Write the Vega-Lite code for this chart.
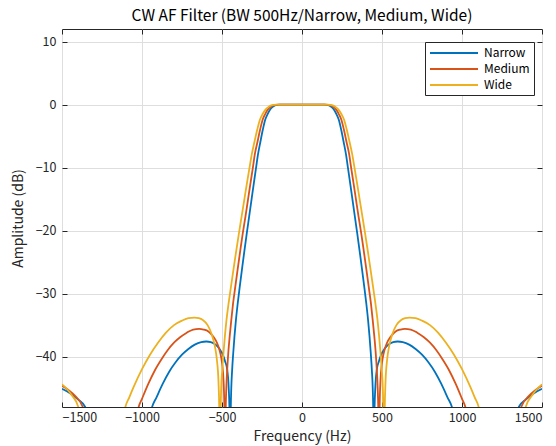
{
  "$schema": "https://vega.github.io/schema/vega-lite/v6.json",
  "width": 480,
  "height": 378,
  "autosize": {"type": "none"},
  "padding": {"left": 62, "top": 29, "right": 14, "bottom": 39},
  "background": "white",
  "title": {"text": "CW AF Filter (BW 500Hz/Narrow, Medium, Wide)", "font": "Noto Sans CJK JP", "fontSize": 15.5, "fontWeight": "normal", "color": "#000000", "offset": 4},
  "config": {
    "view": {"stroke": "#262626", "strokeWidth": 1},
    "axis": {
      "labelFont": "Noto Sans CJK JP", "labelFontSize": 12.5, "labelColor": "#262626",
      "titleFont": "Noto Sans CJK JP", "titleFontSize": 14, "titleFontWeight": "normal", "titleColor": "#262626",
      "domain": false, "tickColor": "#262626", "tickSize": -5, "gridColor": "#dedede", "gridWidth": 1
    },
    "legend": {"labelFont": "Noto Sans CJK JP", "labelFontSize": 12, "labelColor": "#000000"}
  },
  "data": {"values": [
    {"s":"Narrow","f":-1500,"db":-45.1},{"s":"Narrow","f":-1450,"db":-45.8},{"s":"Narrow","f":-1400,"db":-46.8},{"s":"Narrow","f":-1355,"db":-48},{"s":"Narrow","f":-1340,"db":-50},{"s":"Narrow","f":-1150,"db":-80},{"s":"Narrow","f":-970,"db":-52},{"s":"Narrow","f":-937,"db":-48},{"s":"Narrow","f":-910,"db":-46.5},{"s":"Narrow","f":-870,"db":-44.3},{"s":"Narrow","f":-830,"db":-42.4},{"s":"Narrow","f":-790,"db":-40.9},{"s":"Narrow","f":-750,"db":-39.7},{"s":"Narrow","f":-710,"db":-38.8},{"s":"Narrow","f":-670,"db":-38.1},{"s":"Narrow","f":-630,"db":-37.7},{"s":"Narrow","f":-598,"db":-37.6},{"s":"Narrow","f":-570,"db":-37.7},{"s":"Narrow","f":-540,"db":-38.1},{"s":"Narrow","f":-515,"db":-38.8},{"s":"Narrow","f":-495,"db":-39.7},{"s":"Narrow","f":-480,"db":-40.8},{"s":"Narrow","f":-468,"db":-42},{"s":"Narrow","f":-458,"db":-45},{"s":"Narrow","f":-452,"db":-50},{"s":"Narrow","f":-448,"db":-70},{"s":"Narrow","f":-446,"db":-50},{"s":"Narrow","f":-442,"db":-45},{"s":"Narrow","f":-437,"db":-42.3},{"s":"Narrow","f":-430,"db":-39.5},{"s":"Narrow","f":-422,"db":-36.8},{"s":"Narrow","f":-413,"db":-34.2},{"s":"Narrow","f":-402,"db":-31.6},{"s":"Narrow","f":-390,"db":-29.1},{"s":"Narrow","f":-375,"db":-26.1},{"s":"Narrow","f":-360,"db":-23.2},{"s":"Narrow","f":-345,"db":-20.4},{"s":"Narrow","f":-330,"db":-17.7},{"s":"Narrow","f":-315,"db":-15},{"s":"Narrow","f":-300,"db":-12.3},{"s":"Narrow","f":-287,"db":-10},{"s":"Narrow","f":-275,"db":-7.9},{"s":"Narrow","f":-260,"db":-5.9},{"s":"Narrow","f":-245,"db":-4},{"s":"Narrow","f":-230,"db":-2.4},{"s":"Narrow","f":-215,"db":-1.5},{"s":"Narrow","f":-200,"db":-0.8},{"s":"Narrow","f":-185,"db":-0.4},{"s":"Narrow","f":-165,"db":-0.1},{"s":"Narrow","f":-140,"db":0},{"s":"Narrow","f":0,"db":0},{"s":"Narrow","f":140,"db":0},{"s":"Narrow","f":165,"db":-0.1},{"s":"Narrow","f":185,"db":-0.4},{"s":"Narrow","f":200,"db":-0.8},{"s":"Narrow","f":215,"db":-1.5},{"s":"Narrow","f":230,"db":-2.4},{"s":"Narrow","f":245,"db":-4},{"s":"Narrow","f":260,"db":-5.9},{"s":"Narrow","f":275,"db":-7.9},{"s":"Narrow","f":287,"db":-10},{"s":"Narrow","f":300,"db":-12.3},{"s":"Narrow","f":315,"db":-15},{"s":"Narrow","f":330,"db":-17.7},{"s":"Narrow","f":345,"db":-20.4},{"s":"Narrow","f":360,"db":-23.2},{"s":"Narrow","f":375,"db":-26.1},{"s":"Narrow","f":390,"db":-29.1},{"s":"Narrow","f":402,"db":-31.6},{"s":"Narrow","f":413,"db":-34.2},{"s":"Narrow","f":422,"db":-36.8},{"s":"Narrow","f":430,"db":-39.5},{"s":"Narrow","f":437,"db":-42.3},{"s":"Narrow","f":442,"db":-45},{"s":"Narrow","f":446,"db":-50},{"s":"Narrow","f":448,"db":-70},{"s":"Narrow","f":452,"db":-50},{"s":"Narrow","f":458,"db":-45},{"s":"Narrow","f":468,"db":-42},{"s":"Narrow","f":480,"db":-40.8},{"s":"Narrow","f":495,"db":-39.7},{"s":"Narrow","f":515,"db":-38.8},{"s":"Narrow","f":540,"db":-38.1},{"s":"Narrow","f":570,"db":-37.7},{"s":"Narrow","f":598,"db":-37.6},{"s":"Narrow","f":630,"db":-37.7},{"s":"Narrow","f":670,"db":-38.1},{"s":"Narrow","f":710,"db":-38.8},{"s":"Narrow","f":750,"db":-39.7},{"s":"Narrow","f":790,"db":-40.9},{"s":"Narrow","f":830,"db":-42.4},{"s":"Narrow","f":870,"db":-44.3},{"s":"Narrow","f":910,"db":-46.5},{"s":"Narrow","f":937,"db":-48},{"s":"Narrow","f":970,"db":-52},{"s":"Narrow","f":1150,"db":-80},{"s":"Narrow","f":1340,"db":-50},{"s":"Narrow","f":1355,"db":-48},{"s":"Narrow","f":1400,"db":-46.8},{"s":"Narrow","f":1450,"db":-45.8},{"s":"Narrow","f":1500,"db":-45.1},

    {"s":"Medium","f":-1500,"db":-44.6},{"s":"Medium","f":-1460,"db":-45.3},{"s":"Medium","f":-1420,"db":-46.2},{"s":"Medium","f":-1370,"db":-48},{"s":"Medium","f":-1355,"db":-50},{"s":"Medium","f":-1200,"db":-80},{"s":"Medium","f":-1050,"db":-52},{"s":"Medium","f":-1021,"db":-48},{"s":"Medium","f":-1000,"db":-46.7},{"s":"Medium","f":-960,"db":-44.3},{"s":"Medium","f":-920,"db":-42.2},{"s":"Medium","f":-880,"db":-40.5},{"s":"Medium","f":-840,"db":-39},{"s":"Medium","f":-800,"db":-37.8},{"s":"Medium","f":-760,"db":-36.9},{"s":"Medium","f":-720,"db":-36.2},{"s":"Medium","f":-680,"db":-35.7},{"s":"Medium","f":-643,"db":-35.6},{"s":"Medium","f":-615,"db":-35.7},{"s":"Medium","f":-585,"db":-36},{"s":"Medium","f":-555,"db":-36.8},{"s":"Medium","f":-530,"db":-37.9},{"s":"Medium","f":-512,"db":-39.3},{"s":"Medium","f":-500,"db":-41},{"s":"Medium","f":-490,"db":-44},{"s":"Medium","f":-484,"db":-50},{"s":"Medium","f":-480,"db":-70},{"s":"Medium","f":-478,"db":-50},{"s":"Medium","f":-473,"db":-45},{"s":"Medium","f":-468,"db":-42.3},{"s":"Medium","f":-461,"db":-39.5},{"s":"Medium","f":-452,"db":-36.8},{"s":"Medium","f":-442,"db":-34.2},{"s":"Medium","f":-431,"db":-31.6},{"s":"Medium","f":-418,"db":-29.1},{"s":"Medium","f":-402,"db":-26.1},{"s":"Medium","f":-386,"db":-23.2},{"s":"Medium","f":-370,"db":-20.4},{"s":"Medium","f":-353,"db":-17.7},{"s":"Medium","f":-337,"db":-15},{"s":"Medium","f":-321,"db":-12.3},{"s":"Medium","f":-307,"db":-10},{"s":"Medium","f":-295,"db":-7.9},{"s":"Medium","f":-278,"db":-5.9},{"s":"Medium","f":-262,"db":-4},{"s":"Medium","f":-246,"db":-2.4},{"s":"Medium","f":-230,"db":-1.5},{"s":"Medium","f":-214,"db":-0.8},{"s":"Medium","f":-198,"db":-0.4},{"s":"Medium","f":-177,"db":-0.1},{"s":"Medium","f":-150,"db":0},{"s":"Medium","f":0,"db":0},{"s":"Medium","f":150,"db":0},{"s":"Medium","f":177,"db":-0.1},{"s":"Medium","f":198,"db":-0.4},{"s":"Medium","f":214,"db":-0.8},{"s":"Medium","f":230,"db":-1.5},{"s":"Medium","f":246,"db":-2.4},{"s":"Medium","f":262,"db":-4},{"s":"Medium","f":278,"db":-5.9},{"s":"Medium","f":295,"db":-7.9},{"s":"Medium","f":307,"db":-10},{"s":"Medium","f":321,"db":-12.3},{"s":"Medium","f":337,"db":-15},{"s":"Medium","f":353,"db":-17.7},{"s":"Medium","f":370,"db":-20.4},{"s":"Medium","f":386,"db":-23.2},{"s":"Medium","f":402,"db":-26.1},{"s":"Medium","f":418,"db":-29.1},{"s":"Medium","f":431,"db":-31.6},{"s":"Medium","f":442,"db":-34.2},{"s":"Medium","f":452,"db":-36.8},{"s":"Medium","f":461,"db":-39.5},{"s":"Medium","f":468,"db":-42.3},{"s":"Medium","f":473,"db":-45},{"s":"Medium","f":478,"db":-50},{"s":"Medium","f":480,"db":-70},{"s":"Medium","f":484,"db":-50},{"s":"Medium","f":490,"db":-44},{"s":"Medium","f":500,"db":-41},{"s":"Medium","f":512,"db":-39.3},{"s":"Medium","f":530,"db":-37.9},{"s":"Medium","f":555,"db":-36.8},{"s":"Medium","f":585,"db":-36},{"s":"Medium","f":615,"db":-35.7},{"s":"Medium","f":643,"db":-35.6},{"s":"Medium","f":680,"db":-35.7},{"s":"Medium","f":720,"db":-36.2},{"s":"Medium","f":760,"db":-36.9},{"s":"Medium","f":800,"db":-37.8},{"s":"Medium","f":840,"db":-39},{"s":"Medium","f":880,"db":-40.5},{"s":"Medium","f":920,"db":-42.2},{"s":"Medium","f":960,"db":-44.3},{"s":"Medium","f":1000,"db":-46.7},{"s":"Medium","f":1021,"db":-48},{"s":"Medium","f":1050,"db":-52},{"s":"Medium","f":1200,"db":-80},{"s":"Medium","f":1355,"db":-50},{"s":"Medium","f":1370,"db":-48},{"s":"Medium","f":1420,"db":-46.2},{"s":"Medium","f":1460,"db":-45.3},{"s":"Medium","f":1500,"db":-44.6},

    {"s":"Wide","f":-1500,"db":-44.4},{"s":"Wide","f":-1470,"db":-45.1},{"s":"Wide","f":-1440,"db":-46.1},{"s":"Wide","f":-1398,"db":-48},{"s":"Wide","f":-1385,"db":-50},{"s":"Wide","f":-1250,"db":-80},{"s":"Wide","f":-1130,"db":-52},{"s":"Wide","f":-1104,"db":-48},{"s":"Wide","f":-1080,"db":-46.5},{"s":"Wide","f":-1050,"db":-44.7},{"s":"Wide","f":-1000,"db":-42},{"s":"Wide","f":-950,"db":-39.7},{"s":"Wide","f":-900,"db":-37.8},{"s":"Wide","f":-850,"db":-36.2},{"s":"Wide","f":-800,"db":-35},{"s":"Wide","f":-750,"db":-34.3},{"s":"Wide","f":-710,"db":-33.9},{"s":"Wide","f":-672,"db":-33.8},{"s":"Wide","f":-645,"db":-33.9},{"s":"Wide","f":-620,"db":-34.2},{"s":"Wide","f":-590,"db":-35},{"s":"Wide","f":-565,"db":-36.4},{"s":"Wide","f":-545,"db":-38.3},{"s":"Wide","f":-532,"db":-40.5},{"s":"Wide","f":-522,"db":-44},{"s":"Wide","f":-516,"db":-50},{"s":"Wide","f":-512,"db":-70},{"s":"Wide","f":-509,"db":-50},{"s":"Wide","f":-505,"db":-45},{"s":"Wide","f":-499,"db":-42.3},{"s":"Wide","f":-491,"db":-39.5},{"s":"Wide","f":-482,"db":-36.8},{"s":"Wide","f":-472,"db":-34.2},{"s":"Wide","f":-459,"db":-31.6},{"s":"Wide","f":-445,"db":-29.1},{"s":"Wide","f":-428,"db":-26.1},{"s":"Wide","f":-411,"db":-23.2},{"s":"Wide","f":-394,"db":-20.4},{"s":"Wide","f":-377,"db":-17.7},{"s":"Wide","f":-360,"db":-15},{"s":"Wide","f":-343,"db":-12.3},{"s":"Wide","f":-328,"db":-10},{"s":"Wide","f":-314,"db":-7.9},{"s":"Wide","f":-297,"db":-5.9},{"s":"Wide","f":-280,"db":-4},{"s":"Wide","f":-263,"db":-2.4},{"s":"Wide","f":-246,"db":-1.5},{"s":"Wide","f":-228,"db":-0.8},{"s":"Wide","f":-211,"db":-0.4},{"s":"Wide","f":-188,"db":-0.1},{"s":"Wide","f":-160,"db":0},{"s":"Wide","f":0,"db":0},{"s":"Wide","f":160,"db":0},{"s":"Wide","f":188,"db":-0.1},{"s":"Wide","f":211,"db":-0.4},{"s":"Wide","f":228,"db":-0.8},{"s":"Wide","f":246,"db":-1.5},{"s":"Wide","f":263,"db":-2.4},{"s":"Wide","f":280,"db":-4},{"s":"Wide","f":297,"db":-5.9},{"s":"Wide","f":314,"db":-7.9},{"s":"Wide","f":328,"db":-10},{"s":"Wide","f":343,"db":-12.3},{"s":"Wide","f":360,"db":-15},{"s":"Wide","f":377,"db":-17.7},{"s":"Wide","f":394,"db":-20.4},{"s":"Wide","f":411,"db":-23.2},{"s":"Wide","f":428,"db":-26.1},{"s":"Wide","f":445,"db":-29.1},{"s":"Wide","f":459,"db":-31.6},{"s":"Wide","f":472,"db":-34.2},{"s":"Wide","f":482,"db":-36.8},{"s":"Wide","f":491,"db":-39.5},{"s":"Wide","f":499,"db":-42.3},{"s":"Wide","f":505,"db":-45},{"s":"Wide","f":509,"db":-50},{"s":"Wide","f":512,"db":-70},{"s":"Wide","f":516,"db":-50},{"s":"Wide","f":522,"db":-44},{"s":"Wide","f":532,"db":-40.5},{"s":"Wide","f":545,"db":-38.3},{"s":"Wide","f":565,"db":-36.4},{"s":"Wide","f":590,"db":-35},{"s":"Wide","f":620,"db":-34.2},{"s":"Wide","f":645,"db":-33.9},{"s":"Wide","f":672,"db":-33.8},{"s":"Wide","f":710,"db":-33.9},{"s":"Wide","f":750,"db":-34.3},{"s":"Wide","f":800,"db":-35},{"s":"Wide","f":850,"db":-36.2},{"s":"Wide","f":900,"db":-37.8},{"s":"Wide","f":950,"db":-39.7},{"s":"Wide","f":1000,"db":-42},{"s":"Wide","f":1050,"db":-44.7},{"s":"Wide","f":1080,"db":-46.5},{"s":"Wide","f":1104,"db":-48},{"s":"Wide","f":1130,"db":-52},{"s":"Wide","f":1250,"db":-80},{"s":"Wide","f":1385,"db":-50},{"s":"Wide","f":1398,"db":-48},{"s":"Wide","f":1440,"db":-46.1},{"s":"Wide","f":1470,"db":-45.1},{"s":"Wide","f":1500,"db":-44.4}
  ]},
  "layer": [
    {
      "mark": {"type": "line", "clip": true, "strokeWidth": 1.8, "interpolate": "monotone"},
      "encoding": {
        "x": {"field": "f", "type": "quantitative", "scale": {"domain": [-1500, 1500], "nice": false},
              "axis": {"orient": "bottom", "values": [-1500, -1000, -500, 0, 500, 1000, 1500], "format": "d", "title": "Frequency (Hz)", "labelPadding": 9, "titlePadding": 6}},
        "y": {"field": "db", "type": "quantitative", "scale": {"domain": [-48, 12], "nice": false, "zero": false},
              "axis": {"orient": "left", "values": [-40, -30, -20, -10, 0, 10], "format": "d", "title": "Amplitude (dB)", "labelPadding": 11, "titlePadding": 10}},
        "color": {"field": "s", "type": "nominal",
                  "scale": {"domain": ["Narrow", "Medium", "Wide"], "range": ["#0072BD", "#D95319", "#EDB120"]},
                  "legend": {"title": null, "orient": "none", "legendX": 363, "legendY": 13,
                             "symbolType": "M-1,0H7", "symbolSize": 144, "symbolStrokeWidth": 2,
                             "labelOffset": 41, "rowPadding": 3, "padding": 4,
                             "fillColor": "white", "strokeColor": "#262626"}},
        "order": {"field": "f", "type": "quantitative"}
      }
    },
    {
      "mark": {"type": "line", "clip": true, "strokeOpacity": 0},
      "encoding": {
        "x": {"field": "f", "type": "quantitative",
              "axis": {"orient": "top", "values": [-1500, -1000, -500, 0, 500, 1000, 1500], "labels": false, "title": null, "grid": false}},
        "y": {"field": "db", "type": "quantitative",
              "axis": {"orient": "right", "values": [-40, -30, -20, -10, 0, 10], "labels": false, "title": null, "grid": false}},
        "detail": {"field": "s", "type": "nominal"}
      }
    }
  ],
  "resolve": {"axis": {"x": "independent", "y": "independent"}}
}
